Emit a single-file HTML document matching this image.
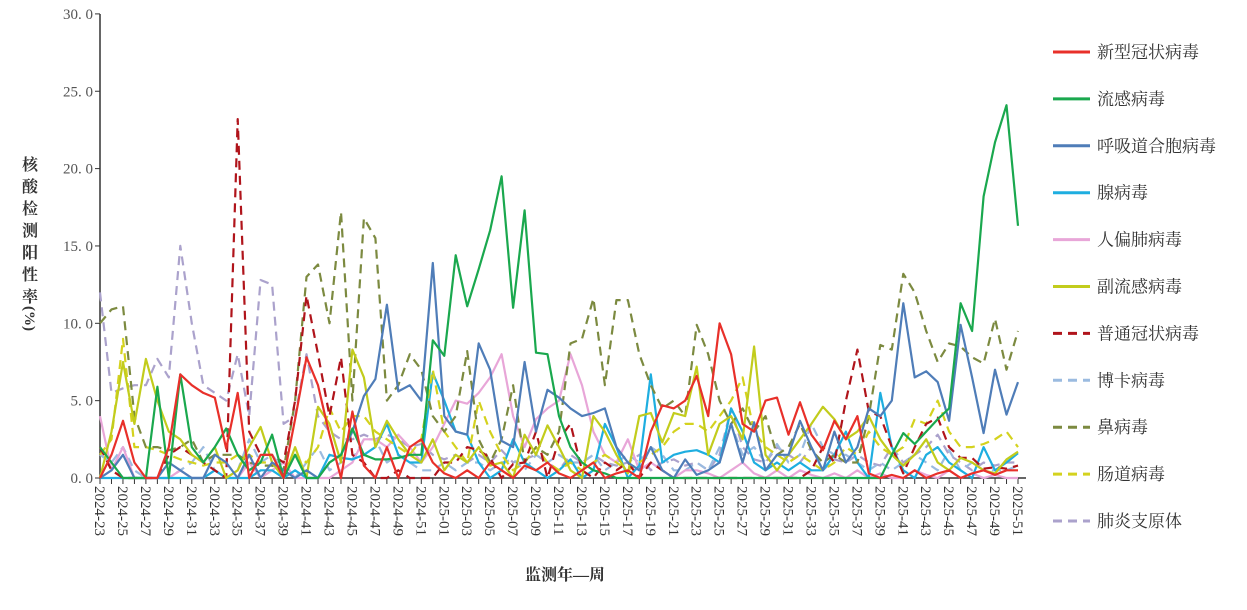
<!DOCTYPE html>
<html><head><meta charset="utf-8"><style>
body{margin:0;background:#fff;}
svg text{font-family:"Liberation Serif","Noto Serif CJK SC",serif;}
</style></head><body>
<svg id="c" width="1247" height="605" xmlns="http://www.w3.org/2000/svg"></svg>
<script>
const S=document.getElementById('c');
let h='';
const X=i=>100+i*11.475, Y=v=>478-v*15.47;
h+='<line x1="100" y1="14" x2="100" y2="478" stroke="#333" stroke-width="1.5"/>';
h+='<line x1="100" y1="478" x2="1026" y2="478" stroke="#333" stroke-width="1.5"/>';
for(let k=0;k<=6;k++){let y=Y(k*5);h+=`<line x1="95" y1="${y}" x2="100" y2="${y}" stroke="#333"/>`;
h+=`<text x="93" y="${y+5}" text-anchor="end" font-size="15" fill="#555">${k*5}. 0</text>`;}
for(let i=0;i<=80;i++){h+=`<line x1="${X(i)}" y1="478" x2="${X(i)}" y2="484" stroke="#333"/>`;}
for(let i=0;i<=80;i+=2){let w=23+i, yr=2024; if(w>52){w-=52;yr=2025;}
let lab=yr+'-'+String(w).padStart(2,'0');
h+=`<text transform="translate(${X(i)-5},486) rotate(90)" font-size="15" fill="#333">${lab}</text>`;}
h+='<text x="565" y="580" text-anchor="middle" font-size="16" font-weight="bold" fill="#333">监测年—周</text>';
const yt=['核','酸','检','测','阳','性','率'];
yt.forEach((c,k)=>{h+=`<text x="30" y="${170+k*22}" text-anchor="middle" font-size="16" font-weight="bold" fill="#333">${c}</text>`;});
h+=`<text transform="translate(25,306) rotate(90)" font-size="15" font-weight="bold" fill="#333">(%)</text>`;
const D={
lav:[12,5.5,5.8,6,6,7.7,6.5,15,10,6,5.5,5,8,4,12.8,12.5,3.5,4,8,4,3,2.5,2.5,2.8,2.5,2.8,2.5,2,2.2,1.5,1.2,1.5,1,1.5,1,1.8,1,1.2,1.5,1,0.5,1.5,1,1.5,1,0.8,1,1.5,0.5,1,1.2,0.8,1,0.5,1.5,4.5,2,1.2,1,2,1.5,1,2,0.5,1.2,1,1.5,1,0.8,2,1,1.5,2,2.8,1.5,1,0.5,1,0.8,1,1],
lblue:[1.5,1,2,0.5,0,0,0,0.5,1,2,0.5,0,0.5,2.5,1,1.5,0.5,0,1,2,0.5,1,1.2,2.5,2.5,1,1.5,1,0.5,0.5,1,0.5,1,1,0.5,1,1.2,0.5,1.5,1,1.5,1,1,1.5,0.5,1,1.5,1,2,1.5,0.5,0.5,1,0.5,2,3.5,1.5,2,1,2.2,1,1.5,3.5,2,1.5,1.5,1,0.5,1,0.5,1,1.5,1,0.5,1.8,0.5,1,0.5,0.5,0.5,0.8],
pink:[4,0.5,2,0,0,0,0,0.5,0,0,0.5,0,0,1,0,0.5,1,0,0,0,0,0.5,1,2.5,2.5,2,2.8,2,1,2,3.5,5,4.8,5.5,6.5,8,4,2,3.8,4.5,5,8,6,3,1.5,1,2.5,0.5,1,0.5,0,0.5,0.5,0.3,0,0.5,1,0.3,0,0.5,0,0.5,0.2,0,0.3,0,0.5,0,0.3,0,0,0.5,0.2,0,0.5,0,0.3,0,0.2,0,0],
cyan:[0,0,0,0,0,0,0,0,0,0,0.5,0,0,0,0.5,0.5,0,0.5,0,0,1.5,1.3,1.2,1.5,2,3.5,1.5,1,1,6.8,5,3,2.8,1,0,0.5,2.5,1,0.5,0,0.5,1.2,0,0.5,3.5,2,0,0.8,6.7,1,1.5,1.7,1.8,1.5,1,4.5,3,1,0.5,1,0.5,1,0.5,0.5,1.5,3,1,0,5.5,2,0.5,0,1.5,2,1,0.5,0,2,0.5,1,1.6],
green:[2,1,0,0,0,5.9,0,6.7,2,1,2,3.2,1.5,0.5,1,2.8,0,1.5,0,0,1,1.5,3.2,1.5,1.2,1.2,1.3,1.5,1.5,8.9,7.9,14.4,11.1,13.5,16,19.5,11,17.3,8.1,8,4,2,1,0.5,0.3,0,0,0,0,0,0,0,0,0,0,0,0,0,0,0,0,0,0,0,0,0,0,0,0,1.5,2.9,2.2,3,3.8,4.5,11.3,9.5,18.2,21.7,24.1,16.3],
red:[0,1.5,3.7,1,0,0,2,6.7,6,5.5,5.2,1.9,5.5,0,1.5,1.5,0,3.8,7.8,6,2.8,0,4.3,0.8,0,2,0,2,2.5,1,0.3,0,0.5,0,1,0.5,0,0.8,0.5,1,0.3,0,0.5,1,0,0.3,0.5,0,3,4.7,4.5,5,6.6,4,10,8,3.5,3,5,5.2,2.8,4.9,2.8,1.8,3.7,2.5,4,0.3,0,0.2,0,0.5,0,0.3,0.5,0,0.3,0.5,0.2,0.5,0.5],
blue:[0,0.5,1.5,0,0,0,1,0.5,0,0,1.5,1,0,1.5,0,1,0.5,0,0.5,0,1,1.5,3,5.3,6.4,11.2,5.6,6,5,13.9,4,3,2.8,8.7,7,2.4,2,7.5,3,5.7,5.2,4.5,4,4.2,4.5,2,1,0.5,2,0.5,0,1.2,0.2,0.5,1,3.5,1,3.6,0.5,1.5,1.5,3.7,2,0.5,3,1,2,4.5,4,5,11.3,6.5,6.9,6.2,3.7,9.9,6.5,2.9,7,4.1,6.2],
yg:[0,3,7.5,3.5,7.7,5,3,2.5,1.5,1,2,0,0.5,2,3.3,1,0,2,0,4.6,3.5,1,8.3,6.5,2,3.7,2.5,1.5,1,2.5,0.5,1.5,1,2,0.8,1,0,2.8,1.5,3.4,2,0.5,0,4,3,1.5,0.3,4,4.2,2.3,4.2,4,7.2,1.5,3.5,4,2.5,8.5,1.5,0.5,1.5,2.5,3.5,4.6,3.8,2.5,3,4,2.5,1.5,0.8,1.5,2.5,1,0.5,1.3,1,0.5,0.3,1.2,1.7],
dred:[2,0.5,0,0,0,0,1.5,2,1.5,1,0.5,0,23.2,3,1.5,1.5,1,5,11.8,8,4,7.8,1.5,1,0,0,0.5,0,0,0,1,1,2,1.8,1.3,0,0.9,1,3,0,2.5,3.5,0.5,0,1,0.5,1,0,1,0.5,0,0,0,0,0,0,0,0,0,0,0,0,0.5,2,1,5,8.3,4.3,4,2,0.3,2,3.5,3.9,2,1.3,1.3,0.6,0.7,0.6,0.8],
olive:[10,10.9,11.1,4,2,2,1.8,2,2.5,1,1.5,1.5,1.5,1,0.8,0.8,0.5,5,13,13.8,10,17.2,5,16.8,15.5,5,6,8,7,4,3,4,8.2,2.5,1,2.5,6,1,2,1.5,3,8.7,9,11.6,6,11.5,11.5,8,6,4.5,5,4,9.9,8,5,3.5,4.5,3,4,1.5,2,3.5,1.8,1,1.5,1,1,4,8.6,8.3,13.2,12,9.5,7.5,8.7,8.5,7.8,7.4,10.3,7,9.5],
yel:[1.5,2.5,9,2,2,1.8,1.5,1.2,1,0.8,1,1,1.5,1.5,1,1,0.5,1.5,1,2,4.5,3,4,4,3,2.5,2,1.5,2.5,7,3,2,1,5,3,1.5,0.5,1,2,1,0.5,1,0.5,1,1.5,1,0.5,1,1.5,2,3,3.5,3.5,3,4,5,6.5,3,2,1.5,1,1.5,1,0.5,1,2,1.5,3,2,1.5,2,3.8,3.5,5,3,2,2,2.2,2.5,3,2]
};
const ST={red:['#e8302a',0],green:['#1aa84e',0],blue:['#4f7db8',0],cyan:['#1eaee0',0],pink:['#e8a6d8',0],yg:['#c2cc1c',0],dred:['#b0141b',1],lblue:['#9bbbe0',1],olive:['#7c8a40',1],yel:['#d4d21e',1],lav:['#aba2cc',1]};
const order=['lav','lblue','pink','cyan','yel','olive','dred','yg','blue','green','red'];
order.forEach(k=>{const d=D[k].slice(0,81);let p=d.map((v,i)=>(i?'L':'M')+X(i).toFixed(1)+','+Y(v).toFixed(1)).join('');
h+=`<path d="${p}" fill="none" stroke="${ST[k][0]}" stroke-width="2.2" stroke-linejoin="round" ${ST[k][1]?'stroke-dasharray="9,6"':''}/>`;});
const leg=[['red','新型冠状病毒'],['green','流感病毒'],['blue','呼吸道合胞病毒'],['cyan','腺病毒'],['pink','人偏肺病毒'],['yg','副流感病毒'],['dred','普通冠状病毒'],['lblue','博卡病毒'],['olive','鼻病毒'],['yel','肠道病毒'],['lav','肺炎支原体']];
leg.forEach((l,k)=>{const y=52+k*46.9;
h+=`<line x1="1053" y1="${y}" x2="1090" y2="${y}" stroke="${ST[l[0]][0]}" stroke-width="3" ${ST[l[0]][1]?'stroke-dasharray="9,6"':''}/>`;
h+=`<text x="1097" y="${y+6}" font-size="17" fill="#333">${l[1]}</text>`;});
S.innerHTML=h;
</script>
</body></html>
